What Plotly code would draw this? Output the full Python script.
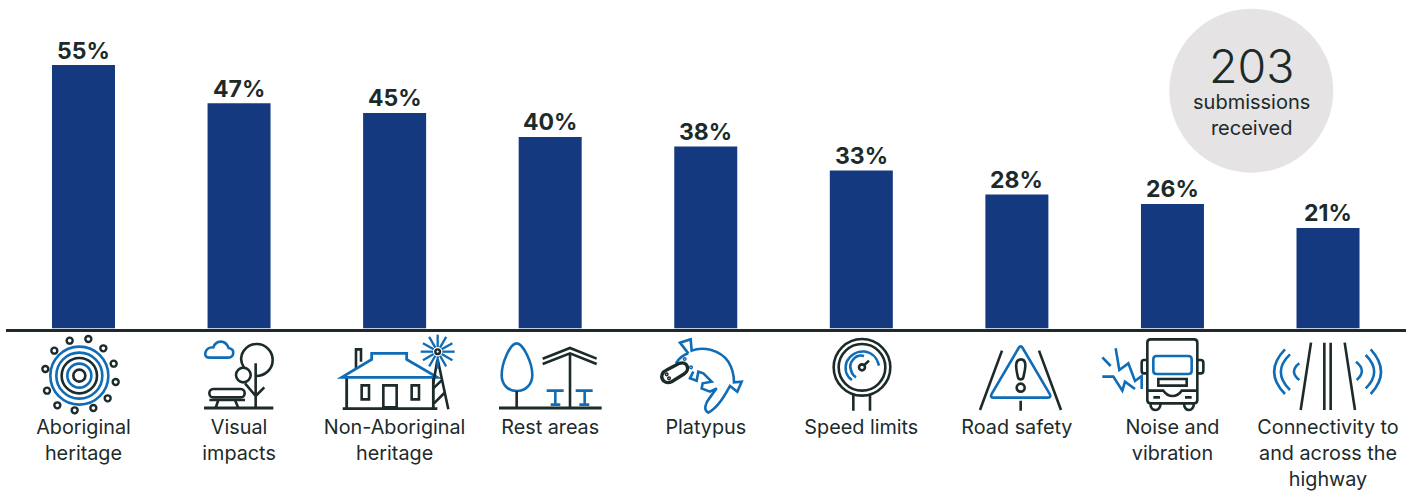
import math
import re
import plotly.graph_objects as go

categories = ["Aboriginal<br>heritage", "Visual<br>impacts", "Non-Aboriginal<br>heritage", "Rest areas",
              "Platypus", "Speed limits", "Road safety", "Noise and<br>vibration",
              "Connectivity to<br>and across the<br>highway"]
values = [55, 47, 45, 40, 38, 33, 28, 26, 21]

W, H = 1418, 495
NAVY = "#14397f"
DARK = "#1c2a2a"
BLUE = "#0f6cb6"
GREY = "#e5e3e3"
FONT = "Inter"

shapes = []


def px(x, y):
    return x / W, 1 - y / H


def path(ox, oy, d, color=DARK, w=2.6, fill=None):
    """Icon outline written in 3x crop units, relative to a crop origin."""
    nums = iter(range(10000))

    def repl(m):
        i = next(nums)
        v = float(m.group(0))
        if i % 2 == 0:
            return f"{(ox + v / 3) / W:.6f}"
        return f"{1 - (oy + v / 3) / H:.6f}"

    s = re.sub(r"-?\d+\.?\d*", repl, d)
    shape = dict(type="path", path=s, xref="paper", yref="paper", line=dict(color=color, width=w), layer="above")
    if fill:
        shape["fillcolor"] = fill
    shapes.append(shape)


def ring(ox, oy, cx, cy, r, color=DARK, w=2.6, fill=None):
    x = ox + cx / 3
    y = oy + cy / 3
    r = r / 3
    x0, y0 = px(x - r, y - r)
    x1, y1 = px(x + r, y + r)
    shape = dict(type="circle", x0=x0, x1=x1, y0=y0, y1=y1, xref="paper", yref="paper",
                 line=dict(color=color, width=w), layer="above")
    if fill:
        shape["fillcolor"] = fill
    shapes.append(shape)


# grey badge
ring(0, 0, 3 * 1251.3, 3 * 90.7, 3 * 82, color=GREY, w=0, fill=GREY)

# 1 Aboriginal heritage
o = (0, 320)
for r, c in [(18, DARK), (36, BLUE), (53, DARK), (69, BLUE), (87, BLUE)]:
    ring(*o, 238, 167, r, c)
for cx, cy in [(265, 57), (310, 85), (341, 131), (347, 186), (323, 235), (280, 264), (224, 271), (172, 256),
               (141, 212), (136, 147), (163, 92), (209, 62)]:
    ring(*o, cx, cy, 9, DARK, 2.4)

# 2 Visual impacts
path(*o, "M628,113 L682,113 C704,113 706,88 686,84 C676,58 648,60 640,82 C615,80 606,113 628,113 Z", BLUE)
path(*o, "M732,143 C708,105 740,72 770,72 C798,72 818,95 818,120 C818,148 795,168 768,168")
ring(*o, 730, 165, 22)
path(*o, "M767,130 L767,262 M767,228 L735,190 M767,228 L793,202")
path(*o, "M612,264 L820,264", w=2.8)
path(*o, "M640,207 L722,207 C738,207 738,232 722,232 L640,232 C624,232 624,207 640,207 Z")
path(*o, "M628,240 L735,240 M655,240 L647,264 M705,240 L715,264")

# 3 Non-Aboriginal heritage
path(*o, "M1068,148 L1068,88 L1083,88 L1083,125")
path(*o, "M1040,172 L1040,266 M1300,172 L1300,266 M1028,266 L1312,266", w=2.8)
path(*o, "M1085,196 L1107,196 L1107,238 L1085,238 Z M1235,196 L1257,196 L1257,238 L1235,238 Z")
path(*o, "M1150,262 L1150,196 L1190,196 L1190,262 L1150,262 Z")
path(*o, "M1025,172 L1115,118 L1115,100 L1220,100 L1220,118 L1312,172 Z", BLUE, 2.8)
path(*o, "M1313,118 L1345,268 M1312,120 L1300,190 M1300,205 L1328,178 M1302,250 L1336,216")
for k in range(12):
    a = k * math.pi / 6
    path(*o, f"M{1313 + 14 * math.cos(a):.1f},{95 + 14 * math.sin(a):.1f} "
             f"L{1313 + 51 * math.cos(a):.1f},{95 + 51 * math.sin(a):.1f}", BLUE, 2.3)
ring(*o, 1313, 95, 7, DARK, 2.4)

# 4 Rest areas
o = (480, 320)
path(*o, "M110,70 C130,70 157,130 157,165 C157,195 135,213 110,213 C85,213 65,195 65,165 C65,130 90,70 110,70 Z", BLUE)
path(*o, "M110,213 L110,264 M270,100 L270,264 M188,116 L270,84 L350,116 M188,132 L270,100 L350,132")
path(*o, "M57,264 L365,264", w=2.8)
path(*o, "M200,212 L251,212 M226,212 L226,254 M212,254 L241,254 M287,212 L338,212 M314,212 L314,254 M298,254 L328,254", BLUE)

# 5 Platypus
path(*o, "M625,100 L600,68 L632,58 L635,92 C670,78 720,90 745,125 C760,150 762,170 762,187 L785,185 L772,215 "
         "L750,198 C735,225 715,262 685,278 C670,270 675,250 690,232 L710,205 L690,215 L665,205 L668,190 L695,185 "
         "L670,160 L655,155 L650,182 L630,175 L640,155 M625,100 C610,105 595,118 588,130", BLUE)
path(*o, "M560,150 L598,130 C622,122 632,150 612,162 L575,185 C548,198 532,162 560,150 Z", DARK, 3.4)
for cx, cy, c in [(560, 163, DARK), (567, 175, DARK), (614, 117, BLUE), (633, 142, BLUE)]:
    ring(*o, cx, cy, 4, c, 1.5)

# 6 Speed limits
ring(*o, 1146, 142, 85)
ring(*o, 1146, 142, 70)
path(*o, "M1197,137 C1185,85 1125,80 1100,125 C1092,150 1100,170 1116,180", BLUE)
path(*o, "M1152,108 C1125,100 1105,130 1113,150 C1115,160 1120,167 1128,172", BLUE)
ring(*o, 1146, 142, 9)
path(*o, "M1153,135 L1167,122")
path(*o, "M1120,225 L1120,272 M1170,225 L1170,272")

# 7 Road safety
o = (940, 320)
path(*o, "M236,84 Q242,74 248,84 L328,220 Q336,233 322,233 L162,233 Q148,233 156,220 Z", BLUE)
path(*o, "M243,118 C260,118 258,140 250,172 C248,180 236,180 234,172 C226,140 225,118 243,118 Z")
ring(*o, 242, 203, 12)
path(*o, "M186,92 L120,270 M297,92 L363,270 M242,242 L242,272")

# 8 Noise and vibration
path(*o, "M632,58 L762,58 Q772,58 772,68 L772,240 Q772,250 762,250 L632,250 Q622,250 622,240 L622,68 Q622,58 632,58 Z")
path(*o, "M622,120 L612,120 Q605,120 605,128 L605,152 Q605,160 612,160 L622,160 "
         "M772,120 L782,120 Q790,120 790,128 L790,152 Q790,160 782,160 L772,160")
path(*o, "M650,108 L745,108 Q755,108 755,118 L755,152 Q755,162 745,162 L650,162 Q640,162 640,152 L640,118 Q640,108 650,108 Z", BLUE)
path(*o, "M655,177 L740,177 L740,197 L655,197 Z")
path(*o, "M622,212 L670,212 Q682,228 697,228 Q714,228 725,212 L772,212 M640,232 L660,232 M735,232 L755,232")
path(*o, "M632,250 L632,258 Q635,270 647,270 Q660,270 662,250 M732,250 Q733,270 747,270 Q760,270 762,250")
path(*o, "M527,85 L538,150 L565,130 L585,183 L605,168 L605,207 M487,170 L520,170 L547,212 L555,185 L585,207 M487,112 L512,138", BLUE)

# 9 Connectivity
path(*o, "M1113,68 L1082,270 M1153,68 L1153,270 M1172,68 L1172,270 M1214,68 L1245,270")
path(*o, "M1035,88 Q970,155 1035,222 M1050,103 Q995,155 1050,210 M1078,130 Q1046,155 1078,180", BLUE)
path(*o, "M1292,88 Q1354,155 1292,222 M1277,105 Q1328,155 1277,205 M1248,125 Q1282,152 1250,180", BLUE)

fig = go.Figure(go.Bar(
    x=categories,
    y=values,
    marker=dict(color=NAVY, line=dict(width=0)),
    cliponaxis=False,
    hoverinfo="skip",
))

value_labels = [
    dict(x=c, y=v, xref="x", yref="y", text=f"{v}%", showarrow=False, xanchor="center", yanchor="middle", yshift=14.5,
         font=dict(family=FONT, size=23, color=DARK, weight=700))
    for c, v in zip(categories, values)
]

BASE = 328.5
fig.update_layout(
    width=W, height=H,
    margin=dict(l=0, r=0, t=0, b=0),
    paper_bgcolor="white", plot_bgcolor="white",
    bargap=0.595, showlegend=False,
    shapes=shapes,
    xaxis=dict(domain=[5.7 / W, 1405.8 / W], type="category", showline=True, linecolor=DARK, linewidth=3,
               ticks="", ticklabelstandoff=79, tickangle=0, showgrid=False, zeroline=False,
               tickfont=dict(family=FONT, size=19.8, color=DARK)),
    yaxis=dict(domain=[1 - BASE / H, 1], range=[0, BASE / 4.79], visible=False),
    annotations=value_labels + [
        dict(text="203", x=1251.3 / W, y=1 - 66.5 / H, xref="paper", yref="paper", showarrow=False,
             xanchor="center", yanchor="middle",
             font=dict(family=FONT, size=46.5, color=DARK, weight=300)),
        dict(text="submissions<br>received", x=1251.3 / W, y=1 - 114.5 / H, xref="paper", yref="paper", showarrow=False,
             xanchor="center", yanchor="middle",
             font=dict(family=FONT, size=20, color=DARK)),
    ],
)

fig.write_html("out.html", config=dict(displayModeBar=False), post_script="document.body.style.margin='0';")
